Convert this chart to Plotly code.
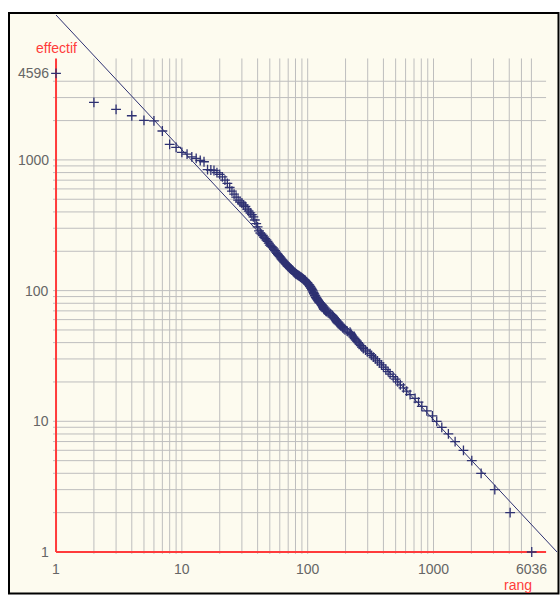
import math
import plotly.graph_objects as go

# ---- data ----
# head: every rank from 1 to 110 with its frequency
head_ranks = list(range(1, 111))
head_freqs = [4596, 2760, 2438, 2178, 2009, 1990, 1664, 1316, 1248, 1143,
              1109, 1057, 1028, 990, 968, 842, 837, 830, 800, 775,
              742, 700, 662, 615, 578, 548, 520, 493, 476, 468,
              452, 440, 421, 406, 393, 382, 366, 347, 326, 307,
              286, 276, 271, 264, 257, 250, 244, 238, 231, 223,
              219, 216, 212, 208, 202, 197, 193, 189, 185, 182,
              178, 174, 171, 168, 165, 163, 160, 158, 155, 153,
              151, 149, 147, 146, 144, 142, 140, 138, 137, 135,
              134, 133, 132, 131, 130, 129, 128, 127, 126, 125,
              124, 123, 122, 121, 120, 119, 117, 116, 115, 114,
              112, 111, 110, 108, 107, 105, 104, 102, 101, 99]
# tail: last rank reached by each frequency
tail_freqs = [97, 95, 94, 92, 91, 89, 88, 87, 86, 85, 84, 83, 82, 81, 80,
              78, 77, 76, 75, 74, 73, 72, 71, 70, 69, 68, 67, 66, 65, 64,
              63, 62, 61, 60, 59, 58, 57, 56, 55, 54, 53, 52, 51, 50, 49,
              48, 47, 46, 45, 44, 43, 42, 41, 40, 39, 38, 37, 36, 35, 34,
              33, 32, 31, 30, 29, 28, 27, 26, 25, 24, 23, 22, 21, 20, 19,
              18, 17, 16, 15, 14, 13, 12, 11, 10, 9, 8, 7, 6, 5, 4, 3, 2, 1]
tail_ranks = [111, 112, 113, 114, 115, 116, 117, 118, 119, 120, 121, 122, 123, 124, 126,
              128, 130, 131, 132, 133, 134, 135, 137, 139, 141, 145, 148, 152, 156, 158,
              160, 162, 164, 166, 168, 170, 172, 175, 179, 183, 187, 190, 194, 198, 206,
              217, 220, 223, 226, 231, 236, 241, 246, 252, 258, 264, 270, 277, 288, 298,
              313, 322, 333, 345, 358, 372, 386, 400, 418, 436, 452, 478, 500, 520, 545,
              577, 612, 651, 714, 760, 807, 885, 980, 1061, 1164, 1313, 1485, 1730, 2015, 2390, 3070, 4064, 6036]

# fitted power law y = fit_coef * x^-fit_exp
fit_coef = 12850
fit_exp = 1.032

x_tick_vals = [1, 10, 100, 1000, 6036]
y_tick_vals = [1, 10, 100, 1000, 4596]
x_label = "rang"
y_label = "effectif"

ranks = head_ranks + tail_ranks
freqs = head_freqs + tail_freqs
max_rank = max(ranks)
max_freq = max(freqs)
x_axis_end = max_rank * 1.3
y_axis_end = max_freq * 1.3
x_fit_end = fit_coef ** (1 / fit_exp)

# ---- styles ----
BG = "#FDFBEF"
GRID = "#BEBEBE"
RED = "#FF3B3B"
NAVY = "#2E3172"
TICK = "#666666"
FONT = "Liberation Sans, Arial, sans-serif"

W, H = 560, 595
L, R, T, B = 51, 3, 15, 40
PW, PH = W - L - R, H - T - B


def minor_steps(limit):
    vals = []
    dec = 1
    while dec <= limit:
        for m in range(1, 10):
            v = m * dec
            if 1 < v <= limit:
                vals.append(v)
        dec *= 10
    return vals


x_grid = minor_steps(max_rank)
y_grid = minor_steps(max_freq)

gx, gy = [], []
ybot = 10 ** (-0.015)
for v in x_grid:
    gx += [v, v, None]
    gy += [ybot, y_axis_end, None]
hx, hy = [], []
xleft = 10 ** (-3 / 125.8)
for v in y_grid:
    hx += [xleft, x_axis_end, None]
    hy += [v, v, None]

fig = go.Figure()
fig.add_trace(go.Scatter(x=gx, y=gy, mode="lines", line=dict(color=GRID, width=1),
                         hoverinfo="skip", showlegend=False))
fig.add_trace(go.Scatter(x=hx, y=hy, mode="lines", line=dict(color=GRID, width=1),
                         hoverinfo="skip", showlegend=False))
# red axes
fig.add_trace(go.Scatter(x=[1, 1, None, 1, x_axis_end], y=[y_axis_end, 1, None, 1, 1],
                         mode="lines", line=dict(color=RED, width=2),
                         hoverinfo="skip", showlegend=False))
# fit line
fig.add_trace(go.Scatter(x=[1, x_fit_end], y=[fit_coef, 1], mode="lines",
                         line=dict(color=NAVY, width=1), showlegend=False))
# data points
fig.add_trace(go.Scatter(x=ranks, y=freqs, mode="markers",
                         marker=dict(symbol="cross-thin", size=7,
                                     line=dict(color=NAVY, width=1.3), color=NAVY),
                         cliponaxis=False, showlegend=False))

annotations = []
for v in x_tick_vals:
    annotations.append(dict(x=math.log10(v), y=0, xref="x", yref="y",
                            text=str(v), showarrow=False, xanchor="center",
                            yanchor="top", yshift=-7,
                            font=dict(family=FONT, size=14, color=TICK)))
for v in y_tick_vals:
    annotations.append(dict(x=0, y=math.log10(v), xref="x", yref="y",
                            text=str(v), showarrow=False, xanchor="right",
                            yanchor="middle", xshift=-5,
                            font=dict(family=FONT, size=14, color=TICK)))
annotations.append(dict(x=0, y=math.log10(y_axis_end), xref="x", yref="y",
                        text=y_label, showarrow=False, xanchor="center",
                        yanchor="bottom", yshift=0,
                        font=dict(family=FONT, size=14, color=RED)))
annotations.append(dict(x=(518 - L) / PW, y=(T + PH - 585) / PH, xref="paper", yref="paper",
                        text=x_label, showarrow=False, xanchor="center", yanchor="middle",
                        font=dict(family=FONT, size=14, color=RED)))

fig.update_layout(
    width=W, height=H,
    margin=dict(l=L, r=R, t=T, b=B),
    paper_bgcolor="white",
    plot_bgcolor="rgba(0,0,0,0)",
    hovermode=False,
    xaxis=dict(type="log", range=[-0.04, math.log10(x_fit_end)], showgrid=False,
               zeroline=False, showticklabels=False, showline=False, ticks=""),
    yaxis=dict(type="log", range=[-0.023, math.log10(fit_coef)], showgrid=False,
               zeroline=False, showticklabels=False, showline=False, ticks=""),
    annotations=annotations,
    shapes=[dict(type="rect", xref="paper", yref="paper",
                 x0=(9 - L) / PW, x1=(558.5 - L) / PW,
                 y0=(T + PH - 593.5) / PH, y1=(T + PH - 13) / PH,
                 fillcolor=BG, line=dict(color="black", width=2), layer="below")],
)

fig.write_html(
    "out.html",
    config={"displayModeBar": False, "staticPlot": True},
    post_script="document.body.style.margin='0px';document.body.style.overflow='hidden';",
)
